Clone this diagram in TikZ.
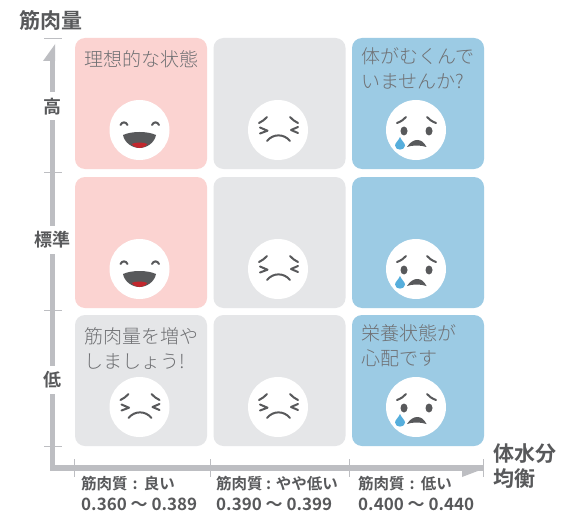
\documentclass[tikz,border=0pt]{standalone}
\usepackage{fontspec}
\setmainfont{Noto Sans CJK JP}
\newfontfamily\jpbold{Noto Sans CJK JP Bold}
\newfontfamily\jpmed{Noto Sans CJK JP Medium}
\newfontfamily\jplight{Noto Sans CJK JP Light}
\definecolor{pinkc}{HTML}{FBD3D1}
\definecolor{grayc}{HTML}{E5E6E8}
\definecolor{bluec}{HTML}{9CCBE4}
\definecolor{axisc}{HTML}{BDBEC2}
\definecolor{txtc}{HTML}{6F7073}
\definecolor{boldc}{HTML}{58595B}
\definecolor{facec}{HTML}{58595B}
\definecolor{redc}{HTML}{C1272D}
\definecolor{tearc}{HTML}{56AEDC}
\tikzset{
  cellbox/.style={fill=#1,rounded corners=10pt,draw=none},
  facedisc/.style={fill=white,draw=none},
  feat/.style={draw=facec,line width=2pt,line cap=round,line join=round},
  axisline/.style={draw=axisc,line width=5.5pt},
  tickline/.style={draw=axisc,line width=.8pt},
  lab/.style={font=\jplight\fontsize{19}{25}\selectfont,text=txtc,align=left,anchor=north west,inner sep=0pt},
  axlab/.style={font=\jpbold\fontsize{21}{25}\selectfont,text=boldc,align=left,inner sep=0pt},
  ylab/.style={font=\jpbold\fontsize{18}{20}\selectfont,text=boldc,inner sep=0pt,fill=white,minimum height=28pt},
  xlab/.style={font=\jpbold\fontsize{15.5}{21}\selectfont,text=boldc,align=left,anchor=north west,inner sep=0pt},
}
\newcommand{\numfont}{\jpbold\fontsize{17}{21}\selectfont}
\newcommand{\cellat}[3]{\fill[cellbox=#3] (#1,#2) rectangle ++(132,131);}
\newcommand{\happy}[3]{%
  \begin{scope}[shift={(#1,#2)}]
  \node[name=#3,facedisc,circle,minimum size=60pt,inner sep=0pt] at (0,0) {};
  \draw[feat] (-19,-5) .. controls (-17.5,-8.5) and (-13.5,-8.5) .. (-12,-5);
  \draw[feat] (12.5,-5) .. controls (14,-8.5) and (18,-8.5) .. (19.5,-5);
  \fill[facec] (-16.5,5) .. controls (-8,1) and (8,1) .. (16.5,5) .. controls (15,13) and (7,18) .. (0,18) .. controls (-7,18) and (-15,13) .. (-16.5,5) -- cycle;
  \fill[redc] (-8,14) .. controls (-3,12) and (3,12) .. (8,14) .. controls (5,17.5) and (2,18) .. (0,18) .. controls (-2,18) and (-5,17.5) .. (-8,14) -- cycle;
  \end{scope}}
\newcommand{\pained}[3]{%
  \begin{scope}[shift={(#1,#2)}]
  \node[name=#3,facedisc,circle,minimum size=60pt,inner sep=0pt] at (0,0) {};
  \draw[feat] (-19,-7) .. controls (-16,-8.5) and (-13,-10.5) .. (-11,-13);
  \draw[feat] (20,-7) .. controls (17,-8.5) and (14,-10.5) .. (12,-13);
  \draw[feat] (-18,-2.5) -- (-10.5,0.7) -- (-18,3.5);
  \draw[feat] (20,-3) -- (13,0) -- (20,3);
  \draw[feat] (-11,11) .. controls (-5,3.5) and (6,3.5) .. (12,11);
  \end{scope}}
\newcommand{\crying}[3]{%
  \begin{scope}[shift={(#1,#2)}]
  \node[name=#3,facedisc,circle,minimum size=60pt,inner sep=0pt] at (0,0) {};
  \draw[feat] (-19,-7) .. controls (-15,-8.5) and (-12,-10.5) .. (-10,-13);
  \draw[feat] (20,-7) .. controls (16,-8.5) and (13,-10.5) .. (11,-13);
  \fill[facec] (-12,1) ellipse (3.5 and 4.5);
  \fill[facec] (13,1) ellipse (3.5 and 4.5);
  \fill[facec] (-9,17) .. controls (-6,12) and (-2,10) .. (1,10) .. controls (5,10) and (8,12) .. (10.5,17) .. controls (5,15) and (-4,15) .. (-9,17) -- cycle;
  \fill[tearc] (-16,7) .. controls (-15,10) and (-11,13) .. (-11,15.5) .. controls (-11,21) and (-21,21) .. (-21,15.5) .. controls (-21,13) and (-17,10) .. (-16,7) -- cycle;
  \end{scope}}
\begin{document}
\begin{tikzpicture}[x=1pt,y=-1pt]
\useasboundingbox (0,0) rectangle (577,513);
\fill[white] (0,0) rectangle (577,513);
% cells
\cellat{75}{38}{pinkc}\cellat{213.5}{38}{grayc}\cellat{352}{38}{bluec}
\cellat{75}{177}{pinkc}\cellat{213.5}{177}{grayc}\cellat{352}{177}{bluec}
\cellat{75}{315}{grayc}\cellat{213.5}{315}{grayc}\cellat{352}{315}{bluec}
% faces
\happy{139.5}{130}{f1}\pained{278}{130}{f2}\crying{416}{130}{f3}
\happy{139.5}{269}{f4}\pained{278}{269}{f5}\crying{416}{269}{f6}
\pained{139.5}{407}{f7}\pained{278}{407}{f8}\crying{416}{407}{f9}
% axes
\coordinate (ot) at (52.5,468);
\coordinate (ya) at (52.5,58);
\coordinate (xa) at (483,468);
\draw[axisline,line join=miter] (ya) -- (ot) -- (xa);
\fill[axisc] (55.2,44) -- (43,61) -- (55.2,61) -- cycle;
\fill[axisc] (462,470) -- (462,477) -- (483,469) -- (483,468) -- cycle;
\draw[tickline] (44,38.5) -- (62,38.5);
\draw[tickline] (44,172.5) -- (62,172.5);
\draw[tickline] (44,310.5) -- (62,310.5);
\draw[tickline] (44,446) -- (62,446);
\draw[tickline] (74.5,459) -- (74.5,477);
\draw[tickline] (210,459) -- (210,477);
\draw[tickline] (349,459) -- (349,477);
\draw[tickline] (483,459) -- (483,477);
% texts
\node[lab] (t1) at (84,50) {理想的な状態};
\node[lab] (t2) at (361,47) {体がむくんで\\いませんか?\hspace{3pt}};
\node[lab] (t3) at (84,327) {筋肉量を増や\\しましょう!};
\node[lab] (t4) at (361,324) {栄養状態が\\心配です};
\node[axlab,anchor=center] (yt) at (51,20) {筋肉量};
\node[axlab,anchor=north west] (xt) at (493,443) {体水分\\均衡};
\node[ylab] (y1) at (52.5,106.5) {高};
\node[ylab] (y2) at (52.5,240) {標準};
\node[ylab] (y3) at (52.5,380) {低};
\node[xlab] (x1) at (81,476.5) {筋肉質\hspace{1.5pt} : \hspace{1.5pt}良い\\{\numfont 0.360 〜 0.389}};
\node[xlab] (x2) at (216,476.5) {筋肉質 : やや低い\\{\numfont 0.390 〜 0.399}};
\node[xlab] (x3) at (358,476.5) {筋肉質\hspace{1.5pt} : \hspace{1.5pt}低い\\{\numfont 0.400 〜 0.440}};
\end{tikzpicture}
\end{document}
